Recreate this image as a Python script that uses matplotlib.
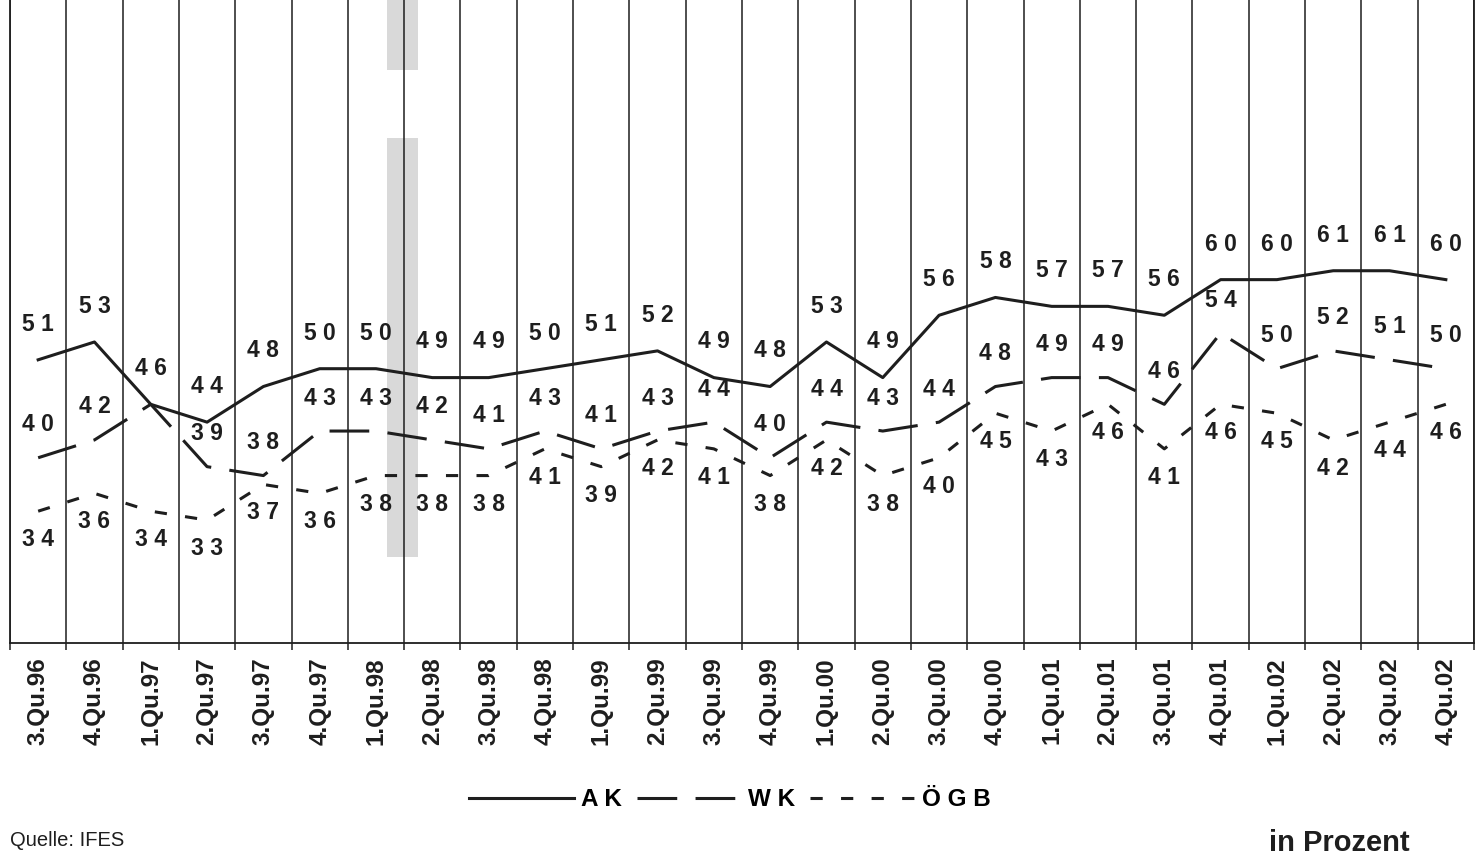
import numpy as np
import matplotlib.pyplot as plt

# Quartale 3/96 bis 4/02
quartale = ["3.Qu.96", "4.Qu.96", "1.Qu.97", "2.Qu.97", "3.Qu.97", "4.Qu.97",
            "1.Qu.98", "2.Qu.98", "3.Qu.98", "4.Qu.98", "1.Qu.99", "2.Qu.99",
            "3.Qu.99", "4.Qu.99", "1.Qu.00", "2.Qu.00", "3.Qu.00", "4.Qu.00",
            "1.Qu.01", "2.Qu.01", "3.Qu.01", "4.Qu.01", "1.Qu.02", "2.Qu.02",
            "3.Qu.02", "4.Qu.02"]

ak = [51, 53, 46, 44, 48, 50, 50, 49, 49, 50, 51, 52, 49, 48, 53, 49,
      56, 58, 57, 57, 56, 60, 60, 61, 61, 60]
wk = [40, 42, 46, 39, 38, 43, 43, 42, 41, 43, 41, 43, 44, 40, 44, 43,
      44, 48, 49, 49, 46, 54, 50, 52, 51, 50]
oegb = [34, 36, 34, 33, 37, 36, 38, 38, 38, 41, 39, 42, 41, 38, 42, 38,
        40, 45, 43, 46, 41, 46, 45, 42, 44, 46]

plt.rcParams['font.family'] = ['Liberation Sans', 'DejaVu Sans']

fig = plt.figure(figsize=(14.76, 8.59), dpi=100)
ax = fig.add_axes([10 / 1476, 1 - 643 / 859, 1464 / 1476, 643 / 859])

x = np.arange(len(quartale))
lw = 2.2
col = "#1e1e1e"
ax.plot(x, ak, color=col, lw=lw, solid_joinstyle="round", label="A K")
ax.plot(x, wk, color=col, lw=lw, dashes=(13, 6), label="W K")
ax.plot(x, oegb, color=col, lw=lw, dashes=(4, 6), label="Ö G B")

# Werte beschriften (gesperrte Ziffern wie im Original)
lab = dict(ha="center", va="center", fontsize=16.5, fontweight="bold", color=col)
for i in x:
    ax.text(i, ak[i] + 4.0, " ".join(str(ak[i])), **lab)
    if wk[i] != ak[i]:
        ax.text(i, wk[i] + 3.7, " ".join(str(wk[i])), **lab)
    ax.text(i, oegb[i] - 3.2, " ".join(str(oegb[i])), **lab)

# Scan-Streifen
ax.axvspan(6.2, 6.75, ymin=1 - 557 / 643, ymax=1 - 138 / 643, color="#d9d9d9", zorder=0, lw=0)
ax.axvspan(6.2, 6.75, ymin=1 - 70 / 643, ymax=1, color="#d9d9d9", zorder=0, lw=0)

ax.set_xlim(-0.5, len(quartale) - 0.5)
ax.set_ylim(19.2, 91.4)

for b in np.arange(-0.5, len(quartale), 1.0):
    ax.axvline(b, color=col, lw=1.1, zorder=1)

ax.set_xticks(x)
ax.set_xticklabels(quartale, rotation=90, fontsize=17.5, fontweight="bold", color=col)
ax.tick_params(axis="x", which="major", length=0, pad=10)
ax.set_xticks(np.arange(-0.5, len(quartale), 1.0), minor=True)
ax.tick_params(axis="x", which="minor", length=5, width=1.1, direction="out", color=col)
ax.set_yticks([])
ax.spines["top"].set_visible(False)
for s in ["left", "right", "bottom"]:
    ax.spines[s].set_linewidth(1.3)
    ax.spines[s].set_color(col)

fig.legend(loc="center", bbox_to_anchor=(730 / 1476, 1 - 800 / 859), ncol=3,
           frameon=False, handlelength=4.3, handletextpad=0.3, columnspacing=0.6,
           prop={"size": 17.5, "weight": "bold"})

fig.text(10 / 1476, 1 - 840 / 859, "Quelle: IFES", fontsize=14.5, va="center", ha="left", color=col)
fig.text(1410 / 1476, 1 - 843 / 859, "in Prozent", fontsize=21, fontweight="bold",
         va="center", ha="right", color=col)

fig.savefig("out.png", dpi=100)
